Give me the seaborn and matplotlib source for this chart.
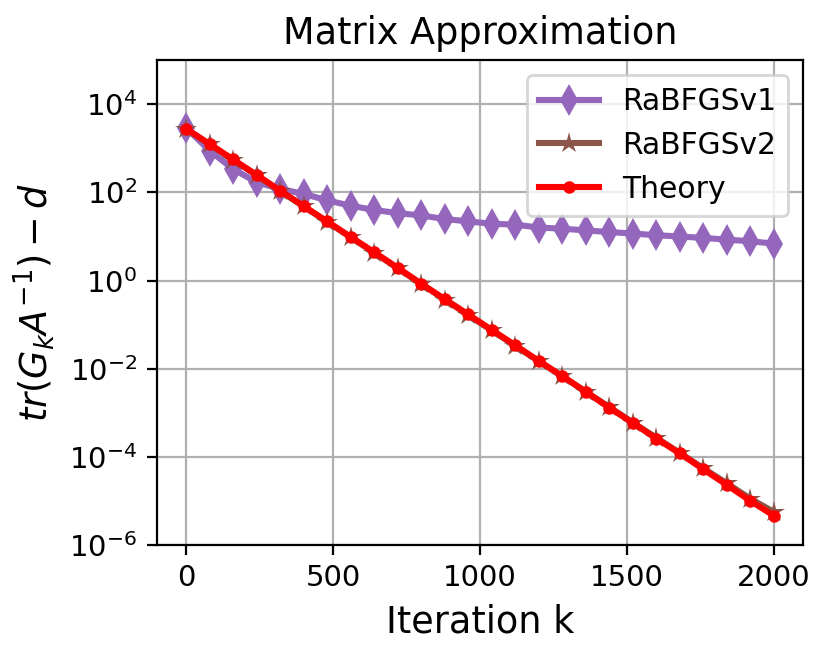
import numpy as np
import pandas as pd
import matplotlib
matplotlib.use("Agg")
import matplotlib.pyplot as plt
import seaborn as sns

# iteration index where values were recorded
iters = [0, 80, 160, 240, 320, 400, 480, 560, 640, 720, 800, 880, 960,
         1040, 1120, 1200, 1280, 1360, 1440, 1520, 1600, 1680, 1760, 1840, 1920, 2000]

rabfgs_v1 = [2950, 890, 340, 170, 120, 93, 66, 50, 40, 34, 30, 25, 22,
             19.5, 18.6, 16, 15, 13.8, 12.6, 11.7, 10.7, 10.0, 9.3, 8.5, 7.8, 6.9]

rabfgs_v2 = [2750, 1230, 545, 245, 108, 48, 21.5, 9.6, 4.3, 1.9, 0.84, 0.37, 0.165,
             0.074, 0.033, 0.0148, 0.0067, 0.0030, 0.00135, 6.0e-4, 2.7e-4,
             1.22e-4, 5.5e-5, 2.5e-5, 1.12e-5, 5.6e-6]

theory = [2800, 1260, 560, 250, 110, 49, 22, 9.8, 4.4, 1.95, 0.85, 0.38, 0.17,
          0.076, 0.034, 0.015, 0.0068, 0.0030, 0.0013, 5.9e-4, 2.6e-4,
          1.2e-4, 5.2e-5, 2.3e-5, 1.0e-5, 4.6e-6]

ytick_vals = [1e-6, 1e-4, 1e-2, 1e0, 1e2, 1e4]

df = pd.DataFrame({"k": iters, "v1": rabfgs_v1, "v2": rabfgs_v2, "theory": theory})

fig, ax = plt.subplots(figsize=(829 / 200, 655 / 200), dpi=200)
fig.subplots_adjust(left=0.189, right=0.969, top=0.908, bottom=0.168)

sns.lineplot(data=df, x="k", y="v1", ax=ax, color="tab:purple", marker="d",
             markersize=8, markeredgewidth=0, linewidth=2.2, label="RaBFGSv1")
sns.lineplot(data=df, x="k", y="v2", ax=ax, color="tab:brown", marker="*",
             markersize=8, markeredgewidth=0, linewidth=2.2, label="RaBFGSv2")
sns.lineplot(data=df, x="k", y="theory", ax=ax, color="red", marker="o",
             markersize=4.5, markeredgewidth=0, linewidth=2.2, label="Theory")

ax.set_yscale("log")
ax.set_ylim(1e-6, 1e5)
ax.set_yticks(ytick_vals)
ax.yaxis.set_minor_locator(matplotlib.ticker.NullLocator())
ax.set_xlim(-100, 2100)
ax.set_xticks([0, 500, 1000, 1500, 2000])
ax.grid(True, color="#b0b0b0", linewidth=0.8)
ax.tick_params(labelsize=10.5)

ax.set_title("Matrix Approximation", fontsize=13.2)
ax.set_xlabel("Iteration k", fontsize=13.2)
ax.set_ylabel(r"$tr(G_kA^{-1})-d$", fontsize=13.2)
ax.legend(loc="upper right", fontsize=10.7)

plt.savefig("out.png", dpi=200)
